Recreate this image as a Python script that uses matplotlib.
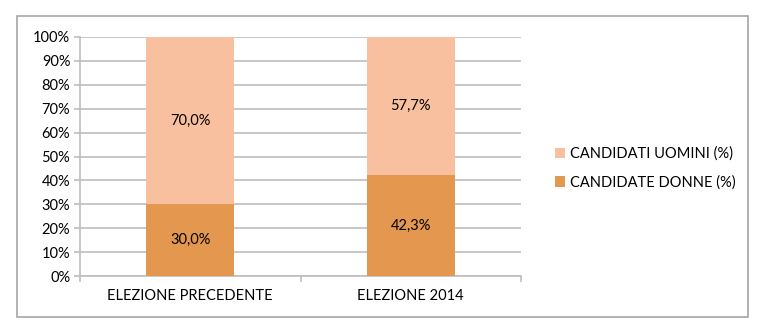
import matplotlib.pyplot as plt
from matplotlib.patches import Rectangle
from matplotlib.ticker import MultipleLocator, FuncFormatter

# Dati
categorie = ['ELEZIONE PRECEDENTE', 'ELEZIONE 2014']
donne = [30.0, 42.3]
uomini = [70.0, 57.7]
etichette = ['CANDIDATE DONNE (%)', 'CANDIDATI UOMINI (%)']

col_donne = '#E3974F'
col_uomini = '#F9C09F'
grigio = '#BEBEBE'

plt.rcParams['font.family'] = ['Lato', 'DejaVu Sans']
fs = 10.5

fig = plt.figure(figsize=(7.7, 3.34), dpi=100)
ax = fig.add_axes([80 / 770, 1 - 276 / 334, 441 / 770, 239 / 334])

# Cornice esterna
fig.patches.append(Rectangle((17 / 770, 1 - 317 / 334), 731 / 770, 301 / 334,
                             transform=fig.transFigure, fill=False,
                             edgecolor='#A6A6A6', linewidth=1.2))

x = range(len(categorie))
b1 = ax.bar(x, donne, width=0.4, color=col_donne, label=etichette[0], zorder=3)
b2 = ax.bar(x, uomini, width=0.4, bottom=donne, color=col_uomini,
            label=etichette[1], zorder=3)

for i in x:
    ax.text(i, donne[i] / 2, f'{donne[i]:.1f}%'.replace('.', ','),
            ha='center', va='center', fontsize=fs, zorder=4)
    ax.text(i, donne[i] + uomini[i] / 2, f'{uomini[i]:.1f}%'.replace('.', ','),
            ha='center', va='center', fontsize=fs, zorder=4)

ax.set_xlim(-0.5, 1.5)
ax.set_ylim(0, 100)
ax.yaxis.set_major_locator(MultipleLocator(10))
ax.yaxis.set_major_formatter(FuncFormatter(lambda v, p: f'{int(v)}%'))
ax.grid(axis='y', color=grigio, linewidth=1.2, zorder=0)

ax.set_xticks([0, 1])
ax.set_xticklabels(categorie)
ax.set_xticks([-0.5, 0.5, 1.5], minor=True)
ax.tick_params(axis='x', which='major', length=0, labelsize=fs, pad=9)
ax.tick_params(axis='x', which='minor', length=4, color=grigio, width=1.2)
ax.tick_params(axis='y', length=4, color=grigio, width=1.2, labelsize=fs, pad=3)

for s in ['top', 'right']:
    ax.spines[s].set_visible(False)
for s in ['left', 'bottom']:
    ax.spines[s].set_color(grigio)
    ax.spines[s].set_linewidth(1.2)

handles = [b2, b1]
ax.legend(handles, [etichette[1], etichette[0]], loc='center left',
          bbox_to_anchor=(542 / 770, 1 - 168 / 334), bbox_transform=fig.transFigure,
          frameon=False, fontsize=fs, handlelength=0.7, handleheight=0.7,
          handletextpad=0.3, labelspacing=1.0)

fig.savefig('out.png', dpi=100)
